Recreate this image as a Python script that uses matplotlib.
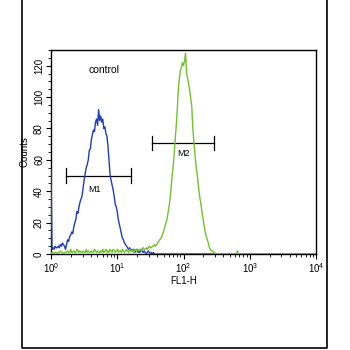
"""Flow cytometry FL1-H histogram: control vs. stained sample with M1/M2 gates."""
import matplotlib

matplotlib.use("Agg")
import matplotlib.pyplot as plt
import numpy as np
from matplotlib.lines import Line2D
from matplotlib.ticker import LogLocator, MultipleLocator

plt.rcParams["font.family"] = ["Liberation Sans", "DejaVu Sans"]
plt.rcParams["mathtext.fontset"] = "custom"
plt.rcParams["mathtext.rm"] = "Liberation Sans"
plt.rcParams["mathtext.default"] = "regular"

N_CHANNELS = 256
CH_PER_DECADE = 64

# counts per channel, control (blue) - channels 0..100, zero beyond
control_counts = [
    54, 3, 4, 3, 5, 4, 4, 5, 4, 6, 5, 7, 6, 5, 3, 6, 9, 8, 11, 12,
    14, 13, 17, 20, 22, 27, 26, 30, 33, 35, 37, 42, 47, 51, 55, 57, 60, 66, 67, 73,
    76, 79, 78, 84, 86, 82, 92, 85, 88, 84, 86, 80, 81, 77, 75, 69, 60, 51, 47, 44,
    41, 37, 32, 30, 27, 22, 19, 16, 13, 10, 9, 7, 6, 5, 4, 3, 4, 2, 3, 2,
    3, 1, 2, 3, 1, 2, 1, 3, 2, 1, 2, 1, 0, 1, 2, 1, 0, 1, 0, 1,
    0,
]

# counts per channel, stained sample (green) - channels 0..180, zero beyond
sample_counts = [
    0, 1, 1, 0, 1, 1, 0, 1, 1, 2, 1, 1, 0, 1, 1, 1, 2, 1, 1, 3,
    1, 1, 2, 1, 1, 3, 2, 1, 2, 1, 1, 2, 1, 1, 3, 1, 2, 1, 1, 2,
    1, 1, 3, 2, 1, 2, 1, 1, 2, 1, 3, 1, 2, 3, 1, 2, 1, 3, 2, 1,
    3, 2, 1, 2, 3, 1, 2, 2, 1, 3, 2, 1, 2, 3, 2, 1, 3, 2, 2, 3,
    1, 2, 3, 2, 3, 2, 3, 2, 3, 4, 3, 3, 4, 3, 4, 5, 4, 4, 5, 5,
    6, 5, 6, 7, 8, 9, 10, 11, 13, 15, 17, 20, 22, 26, 30, 35, 42, 50, 56, 64,
    73, 82, 92, 105, 112, 117, 119, 122, 120, 123, 128, 115, 112, 108, 104, 99, 94, 80, 72, 64,
    57, 52, 46, 40, 35, 31, 26, 22, 18, 14, 11, 9, 7, 4, 3, 2, 2, 1, 1, 0,
    0, 0, 0, 0, 0, 0, 0, 0, 0, 0, 0, 0, 0, 0, 0, 0, 0, 0, 0, 0,
    2,
]

# marker gates: (label, low, high, height)
gates = [("M1", 1.66, 16.0, 50), ("M2", 33.0, 288.0, 71)]
gate_label_pos = [(4.6, 41), (100.0, 64)]

channels = np.arange(N_CHANNELS)
fl1 = 10 ** (channels / CH_PER_DECADE)
control = np.zeros(N_CHANNELS)
control[: len(control_counts)] = control_counts
sample = np.zeros(N_CHANNELS)
sample[: len(sample_counts)] = sample_counts

fig = plt.figure(figsize=(3.5, 3.5), dpi=100)
ax = fig.add_axes([51 / 350, 1 - 254 / 350, 265 / 350, 204 / 350])

ax.plot(fl1, control, color="#1f3db4", lw=1.0, zorder=3)
ax.plot(fl1, sample, color="#72c22c", lw=1.0, zorder=3)

for (name, lo, hi, h), (lx, ly) in zip(gates, gate_label_pos):
    ax.plot([lo, hi], [h, h], color="black", lw=0.9)
    ax.plot([lo, lo], [h - 4.5, h + 4.5], color="black", lw=0.9)
    ax.plot([hi, hi], [h - 4.5, h + 4.5], color="black", lw=0.9)
    ax.text(lx, ly, name, fontsize=6.5, ha="center", va="center")

ax.text(0.2, 0.9, "control", transform=ax.transAxes, fontsize=7.5,
        ha="center", va="center")

ax.set_xscale("log")
ax.set_xlim(1, 1e4)
ax.set_ylim(0, 130)
ax.xaxis.set_major_locator(LogLocator(base=10, numticks=10))
ax.xaxis.set_minor_locator(LogLocator(base=10, subs=np.arange(2, 10), numticks=10))
ax.yaxis.set_major_locator(MultipleLocator(20))
ax.yaxis.set_minor_locator(MultipleLocator(5))
ax.tick_params(which="major", direction="out", length=3.5, width=0.8,
               labelsize=7, pad=1.5)
ax.tick_params(which="minor", direction="out", length=2, width=0.6)
for lbl in ax.get_yticklabels():
    lbl.set_rotation(90)
    lbl.set_va("center")
for s in ax.spines.values():
    s.set_linewidth(1.0)

ax.set_xlabel("FL1-H", fontsize=7, labelpad=1)
ax.set_ylabel("Counts", fontsize=7, labelpad=3)

# outer panel frame (open at the top edge)
fx0, fx1, fy0 = 22.5 / 350, 327 / 350, 1 - 348 / 350
fig.add_artist(Line2D([fx0, fx0, fx1, fx1], [1.0, fy0, fy0, 1.0],
                      transform=fig.transFigure, color="black", lw=1.2))

fig.savefig("out.png", dpi=100)
